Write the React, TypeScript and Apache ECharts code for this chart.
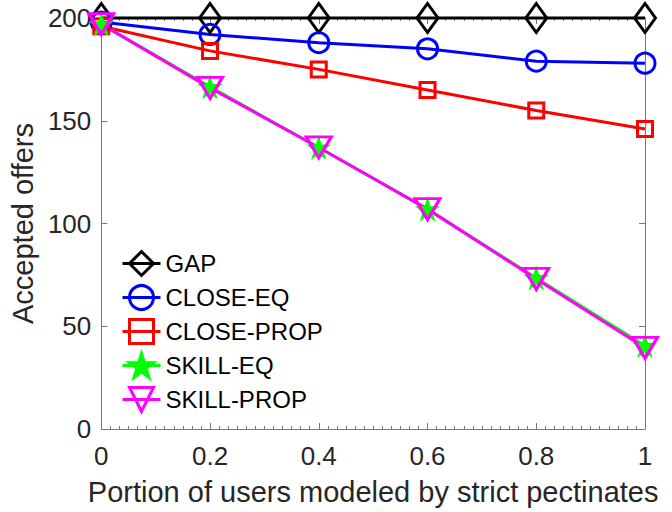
import React, { useEffect, useRef } from "react";
import * as echarts from "echarts";

const xValues = [0, 0.2, 0.4, 0.6, 0.8, 1];
const gap = [200, 200, 200, 200, 200, 200];
const closeEq = [198, 192, 188, 185, 179, 178];
const closeProp = [196, 184, 175, 165, 155, 146];
const skillEq = [197, 166.5, 137, 107, 73.5, 40.5];
const skillProp = [197, 166, 137, 107, 73, 39.5];
const seriesNames = ["GAP", "CLOSE-EQ", "CLOSE-PROP", "SKILL-EQ", "SKILL-PROP"];
const xAxisTitle = "Portion of users modeled by strict pectinates";
const yAxisTitle = "Accepted offers";

const STAR =
  "path://M0,-1L0.2245,-0.309L0.951,-0.309L0.363,0.118L0.588,0.809L0,0.382L-0.588,0.809L-0.363,0.118L-0.951,-0.309L-0.2245,-0.309Z";

const FONT = "Liberation Sans, Arial, Helvetica, sans-serif";
const AXIS_COLOR = "#7a7a7a";
const LABEL_COLOR = "#262626";

function pairs(values: number[]) {
  return xValues.map((x, i) => [x, values[i]]);
}

export default function App() {
  const ref = useRef<HTMLDivElement>(null);

  useEffect(() => {
    if (!ref.current) return;
    const chart = echarts.init(ref.current, undefined, { renderer: "svg" });

    const mk = (
      name: string,
      values: number[],
      color: string,
      symbol: string,
      symbolSize: number | number[],
      filled: boolean,
      rotate = 0
    ) => ({
      name,
      type: "line",
      data: pairs(values),
      symbol,
      symbolSize,
      symbolRotate: rotate,
      showAllSymbol: true,
      clip: false,
      lineStyle: { color, width: 3 },
      itemStyle: {
        color: filled ? color : "rgba(0,0,0,0)",
        borderColor: color,
        borderWidth: filled ? 0 : 3,
      },
      emphasis: { disabled: true },
      z: 2,
    });

    const option: any = {
      animation: false,
      textStyle: { fontFamily: FONT },
      grid: { left: 100, right: 27, top: 18, bottom: 83, containLabel: false },
      legend: {
        orient: "vertical",
        left: 121,
        top: 250,
        padding: 0,
        itemWidth: 38,
        itemHeight: 30,
        itemGap: 7,
        data: seriesNames,
        lineStyle: { width: 3 },
        itemStyle: { borderWidth: 3 },
        textStyle: { fontSize: 24, color: "#000", fontFamily: FONT },
        selectedMode: false,
      },
      xAxis: [
        {
          type: "value",
          min: 0,
          max: 1,
          interval: 0.2,
          name: xAxisTitle,
          nameLocation: "middle",
          nameGap: 48,
          nameTextStyle: { fontSize: 29, color: LABEL_COLOR, fontFamily: FONT },
          axisLine: { show: true, onZero: false, lineStyle: { color: AXIS_COLOR, width: 1 } },
          axisTick: { show: true, inside: true, length: 6, lineStyle: { color: AXIS_COLOR } },
          minorTick: { show: true, splitNumber: 12, length: 3, lineStyle: { color: AXIS_COLOR } },
          axisLabel: { fontSize: 26, color: LABEL_COLOR, margin: 14, fontFamily: FONT },
          splitLine: { show: false },
        },
        {
          type: "value",
          position: "top",
          min: 0,
          max: 1,
          interval: 0.2,
          axisLine: { show: true, onZero: false, lineStyle: { color: AXIS_COLOR, width: 1 } },
          axisTick: { show: true, inside: true, length: 6, lineStyle: { color: AXIS_COLOR } },
          minorTick: { show: true, splitNumber: 12, length: 3, lineStyle: { color: AXIS_COLOR } },
          axisLabel: { show: false },
          splitLine: { show: false },
        },
      ],
      yAxis: [
        {
          type: "value",
          min: 0,
          max: 200,
          interval: 50,
          name: yAxisTitle,
          nameLocation: "middle",
          nameGap: 58,
          nameTextStyle: { fontSize: 29, color: LABEL_COLOR, fontFamily: FONT },
          axisLine: { show: true, onZero: false, lineStyle: { color: AXIS_COLOR, width: 1 } },
          axisTick: { show: true, inside: true, length: 6, lineStyle: { color: AXIS_COLOR } },
          axisLabel: { fontSize: 26, color: LABEL_COLOR, margin: 10, fontFamily: FONT },
          splitLine: { show: false },
        },
        {
          type: "value",
          position: "right",
          min: 0,
          max: 200,
          interval: 50,
          axisLine: { show: true, onZero: false, lineStyle: { color: AXIS_COLOR, width: 1 } },
          axisTick: { show: true, inside: true, length: 6, lineStyle: { color: AXIS_COLOR } },
          axisLabel: { show: false },
          splitLine: { show: false },
        },
      ],
      series: [
        mk(seriesNames[0], gap, "#000000", "diamond", [21, 29], false),
        mk(seriesNames[1], closeEq, "#0000ff", "circle", 20, false),
        mk(seriesNames[2], closeProp, "#ff0000", "rect", 15, false),
        mk(seriesNames[3], skillEq, "#00ff00", STAR, 25, true),
        mk(seriesNames[4], skillProp, "#ff00ff", "triangle", [25, 21], false, 180),
      ],
    };

    chart.setOption(option);
    return () => chart.dispose();
  }, []);

  return <div ref={ref} style={{ width: 672, height: 512, position: "absolute", left: 0, top: 0 }} />;
}
